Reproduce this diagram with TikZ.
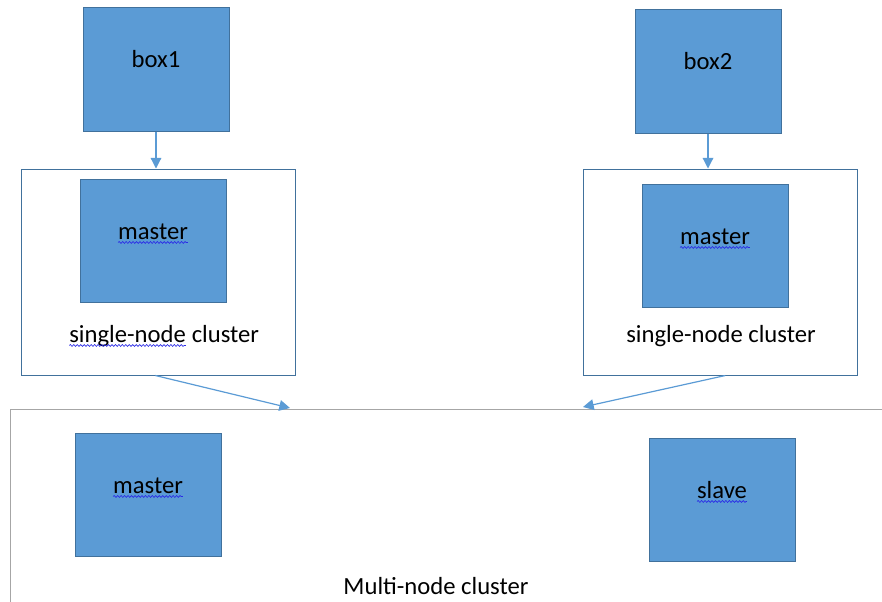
\documentclass[tikz,border=0pt]{standalone}
\usepackage{fontspec}
\setmainfont{Carlito}
\usetikzlibrary{arrows.meta, positioning, calc, decorations.pathmorphing}
\definecolor{boxFill}{HTML}{5B9BD5}
\definecolor{boxLine}{HTML}{41719C}
\definecolor{frameLine}{HTML}{41719C}
\definecolor{frameGray}{HTML}{A6A6A6}
\definecolor{arrowBlue}{HTML}{5B9BD5}
\definecolor{spellBlue}{HTML}{2A2AE6}
% wavy spell-check underline under a word
\newcommand{\spellwave}[1]{\tikz[baseline=(sw.base)]{%
  \node[rectangle, draw=none, fill=none, inner sep=0pt, outer sep=0pt,
        minimum width=0pt, minimum height=0pt, text height=0pt, text depth=0pt] (sw) {#1};%
  \draw[spellBlue, line width=0.5pt, decorate,
        decoration={snake, amplitude=0.7pt, segment length=2.6pt}]
    ([yshift=-2.6pt]sw.base west) -- ([yshift=-2.6pt]sw.base east);}}

\begin{document}
\begin{tikzpicture}[x=0.75pt, y=-0.75pt, font=\fontsize{18.5pt}{22pt}\selectfont]
    \tikzset{
      blk/.style={rectangle, draw=boxLine, line width=0.6pt, fill=boxFill,
                  minimum width=109.5pt, minimum height=92.5pt,
                  text height=12pt, text depth=15pt, inner sep=0pt},
      grp/.style={rectangle, draw=frameLine, line width=0.75pt,
                  minimum width=205.5pt, minimum height=154.5pt, inner sep=0pt},
      lbl/.style={anchor=base, inner sep=0pt},
      f/.style={-{Triangle[length=8pt, width=8pt]}, line width=0.9pt, color=arrowBlue}
    }
    \useasboundingbox (0,0) rectangle (882,601);
    % top boxes
    \node[blk] (box1) at (156,69.5) {box1};
    \node[blk] (box2) at (708,71.5) {box2};
    % single-node clusters
    \node[grp] (grp1) at (158,272) {};
    \node[grp] (grp2) at (720,272) {};
    \node[blk] (mst1) at (153,241) {\spellwave{master}};
    \node[blk] (mst2) at (715,246) {\spellwave{master}};
    \node[lbl] (cap1) at (164,342) {\spellwave{single-node} cluster};
    \node[lbl] (cap2) at (721,342) {single-node cluster};
    % multi-node cluster
    \node[rectangle, draw=frameGray, line width=0.75pt, minimum width=667.5pt,
          minimum height=158.25pt, inner sep=0pt] (multi) at (455,514.5) {};
    \node[blk] (mst3) at (148,495) {\spellwave{master}};
    \node[blk] (slv) at (722,500) {\spellwave{slave}};
    \node[lbl] (cap3) at (436,594) {Multi-node cluster};
    \coordinate (in1) at (290,408);
    \coordinate (in2) at (583,407);
    \draw[f] (box1) -- (box1 |- grp1.north);
    \draw[f] (box2) -- (box2 |- grp2.north);
    \draw[f] ([xshift=-2pt]grp1.south) -- (in1);
    \draw[f] ([xshift=4pt]grp2.south) -- (in2);
  \end{tikzpicture}
\end{document}
